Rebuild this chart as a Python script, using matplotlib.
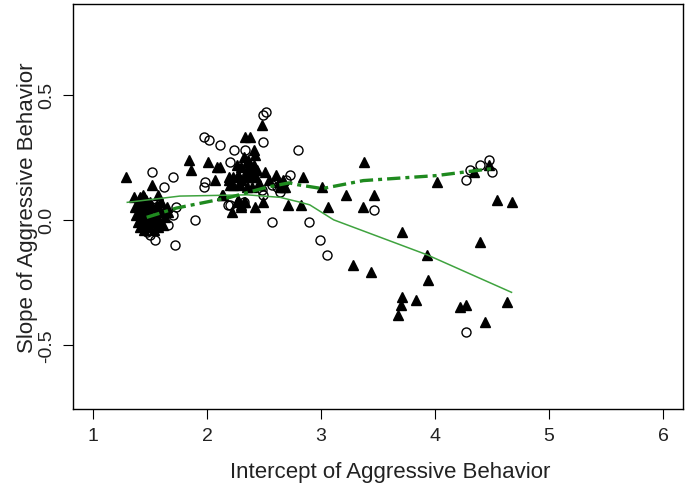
import numpy as np
import matplotlib
matplotlib.use("Agg")
import matplotlib.pyplot as plt

plt.rcParams['font.family'] = ['Liberation Sans', 'DejaVu Sans']

# open circles
circ_x = [2.49, 2.52, 1.97, 2.02, 2.11, 2.49, 2.24, 2.33, 2.80, 2.20, 2.32, 1.52,
          1.70, 1.62, 1.98, 1.97, 2.73, 2.69, 2.61, 2.57, 2.64, 2.48, 2.49, 2.32,
          2.18, 2.32, 2.20, 2.57, 2.89, 1.73, 1.89, 1.66, 1.50, 1.54, 1.72, 2.99,
          3.05, 3.46, 4.31, 4.39, 4.47, 4.27, 4.50, 4.27, 1.45, 1.52, 1.58, 1.47,
          1.60, 1.55, 1.70]
circ_y = [0.42, 0.43, 0.33, 0.32, 0.30, 0.31, 0.28, 0.28, 0.28, 0.23, 0.19, 0.19,
          0.17, 0.13, 0.15, 0.13, 0.18, 0.16, 0.13, 0.14, 0.11, 0.12, 0.10, 0.14,
          0.06, 0.07, 0.06, -0.01, -0.01, 0.05, 0.00, -0.02, -0.06, -0.08, -0.10, -0.08,
          -0.14, 0.04, 0.20, 0.22, 0.24, 0.16, 0.19, -0.45, 0.02, -0.03, 0.00, -0.05,
          0.04, 0.05, 0.02]

# filled triangles
tri_x = [1.29, 2.48, 2.33, 2.38, 2.41, 2.42, 1.84, 2.01, 1.86, 2.09, 2.11, 2.07,
         1.52, 1.57, 1.41, 1.45, 2.13, 2.22, 2.42, 2.49, 2.71, 2.82, 1.66, 2.84,
         3.01, 3.38, 3.22, 3.46, 3.06, 3.37, 4.02, 4.34, 4.47, 4.54, 4.67, 3.71,
         4.39, 3.93, 3.28, 3.44, 3.94, 3.71, 3.70, 3.67, 3.83, 4.22, 4.27, 4.44,
         4.63,
         2.32, 2.36, 2.26, 2.30, 2.38, 2.42, 2.23, 2.27, 2.33, 2.39, 2.43, 2.19,
         2.20, 2.23, 2.29, 2.35, 2.39, 2.45, 2.14, 2.27, 2.32, 2.30, 2.36, 2.41,
         2.35, 2.39, 2.44, 2.30, 2.36, 2.42, 2.51, 2.60, 2.54, 2.63, 2.67, 2.46,
         2.19, 2.67, 2.64, 2.68, 2.26, 2.30, 2.33,
         1.40, 1.43, 1.46, 1.50, 1.37, 1.41, 1.44, 1.48, 1.52, 1.56, 1.60, 1.38,
         1.42, 1.46, 1.50, 1.54, 1.58, 1.62, 1.39, 1.43, 1.47, 1.51, 1.55, 1.59,
         1.41, 1.45, 1.49, 1.53, 1.57, 1.61, 1.36, 1.44, 1.63, 1.65]
tri_y = [0.17, 0.38, 0.33, 0.33, 0.28, 0.26, 0.24, 0.23, 0.20, 0.21, 0.21, 0.16,
         0.14, 0.10, 0.09, 0.09, 0.10, 0.03, 0.05, 0.07, 0.06, 0.06, 0.03, 0.17,
         0.13, 0.23, 0.10, 0.10, 0.05, 0.05, 0.15, 0.19, 0.22, 0.08, 0.07, -0.05,
         -0.09, -0.14, -0.18, -0.21, -0.24, -0.31, -0.34, -0.38, -0.32, -0.35, -0.34, -0.41,
         -0.33,
         0.25, 0.24, 0.22, 0.21, 0.22, 0.20, 0.17, 0.18, 0.17, 0.18, 0.17, 0.16,
         0.14, 0.14, 0.14, 0.13, 0.13, 0.14, 0.10, 0.08, 0.07, 0.05, 0.23, 0.22,
         0.20, 0.20, 0.20, 0.16, 0.17, 0.17, 0.19, 0.18, 0.16, 0.15, 0.13, 0.14,
         0.17, 0.16, 0.13, 0.13, 0.07, 0.06, 0.07,
         0.08, 0.07, 0.08, 0.07, 0.05, 0.04, 0.05, 0.04, 0.05, 0.06, 0.07, 0.02,
         0.01, 0.02, 0.01, 0.02, 0.03, 0.04, -0.01, -0.01, 0.00, -0.01, 0.00, -0.01,
         -0.03, -0.04, -0.03, -0.04, -0.03, -0.02, 0.09, 0.10, 0.01, 0.05]

# smooth curves
solid_x = [1.30, 1.76, 2.35, 2.64, 2.82, 2.90, 3.11, 3.93, 4.67]
solid_y = [0.07, 0.095, 0.10, 0.09, 0.07, 0.06, 0.0, -0.14, -0.29]
dash_x = [1.47, 1.73, 2.20, 2.52, 2.72, 2.80, 3.01, 3.37, 4.01, 4.50]
dash_y = [0.01, 0.047, 0.09, 0.13, 0.148, 0.14, 0.125, 0.157, 0.177, 0.205]

fig = plt.figure(figsize=(6.9, 4.85), dpi=100)
ax = fig.add_axes([0.106, 0.155, 0.884, 0.835])

ax.plot(tri_x, tri_y, '^', color='black', markersize=7, linestyle='none')
ax.plot(circ_x, circ_y, 'o', markerfacecolor='none', markeredgecolor='black',
        markersize=6.5, markeredgewidth=1.0, linestyle='none')
ax.plot(solid_x, solid_y, '-', color='#3fa33f', linewidth=1.1)
ax.plot(dash_x, dash_y, color='#1f8a1f', linewidth=2.4, dashes=(4, 1.5, 1.2, 1.5))

ax.set_xlim(0.825, 6.175)
ax.set_ylim(-0.756, 0.864)
ax.set_xticks([1, 2, 3, 4, 5, 6])
ax.set_yticks([-0.5, 0.0, 0.5])
ax.set_yticklabels(['-0.5', '0.0', '0.5'], rotation=90, va='center')
ax.tick_params(direction='out', length=7, labelsize=14, pad=6, labelcolor='#222222')
ax.set_xlabel('Intercept of Aggressive Behavior', fontsize=16, labelpad=8,
              color='#222222')
ax.xaxis.set_label_coords(0.52, -0.13)
ax.set_ylabel('Slope of Aggressive Behavior', fontsize=16, labelpad=0,
              color='#222222')
for s in ax.spines.values():
    s.set_linewidth(1.0)

fig.savefig('out.png', dpi=100)
